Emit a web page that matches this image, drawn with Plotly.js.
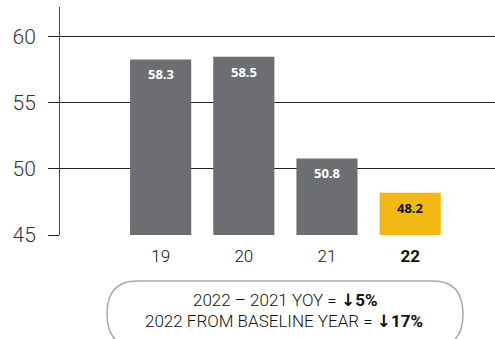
<!DOCTYPE html>
<html><head><meta charset="utf-8">
<script src="https://cdn.plot.ly/plotly-3.0.1.min.js"></script>
<style>html,body{margin:0;padding:0;background:#fff}#chart{width:495px;height:339px}</style>
</head><body><div id="chart"></div>
<script>
const categories = ["19", "20", "21", "22"];
const tickLabels = ["19", "20", "21", "<b>22</b>"];
const values = [58.3, 58.5, 50.8, 48.2];
const barColors = ["#6d6e71", "#6d6e71", "#6d6e71", "#f1b814"];
const labelColors = ["#ffffff", "#ffffff", "#ffffff", "#111111"];
const yTicks = [45, 50, 55, 60];
const ARW = "<span style='font-family:DejaVu Sans'>↓</span>";
const noteLines = ["2022 – 2021 YOY = <b>" + ARW + "5%</b>", "2022 FROM BASELINE YEAR = <b>" + ARW + "17%</b>"];

const xIdx = categories.map((c, i) => i);
const trace = {
  type: "bar",
  x: xIdx,
  y: values.map(v => v - 45),
  base: 45,
  width: 0.735,
  marker: {color: barColors, line: {width: 0}},
  hoverinfo: "skip"
};

const valueLabels = values.map((v, i) => ({
  xref: "x", yref: "y", x: xIdx[i], y: v, yanchor: "middle", yshift: -15,
  showarrow: false, text: "<b>" + v.toFixed(1) + "</b>",
  font: {family: "Open Sans, sans-serif", size: 13, color: labelColors[i]}
}));

const rx = 30/435, ry = 33/228;
const x0 = (107-60)/435, x1 = (463-60)/435, y0 = (235-281)/228, y1 = (235-347)/228;
const path = `M ${x0+rx} ${y0} L ${x1-rx} ${y0} Q ${x1} ${y0} ${x1} ${y0-ry} L ${x1} ${y1+ry} Q ${x1} ${y1} ${x1-rx} ${y1} L ${x0+rx} ${y1} Q ${x0} ${y1} ${x0} ${y1+ry} L ${x0} ${y0-ry} Q ${x0} ${y0} ${x0+rx} ${y0} Z`;

const layout = {
  width: 495, height: 339,
  margin: {l: 60, r: 0, t: 7, b: 104},
  paper_bgcolor: "#fff", plot_bgcolor: "#fff",
  showlegend: false,
  font: {family: "Roboto, sans-serif", color: "#222"},
  xaxis: {
    range: [-1.21, 4.02],
    tickmode: "array", tickvals: xIdx, ticktext: tickLabels,
    showgrid: false, zeroline: false, showline: false,
    ticks: "", tickfont: {size: 17, color: "#111", weight: 300},
    ticklabelstandoff: 9,
    fixedrange: true
  },
  yaxis: {
    range: [45, 62.27],
    tickmode: "array", tickvals: yTicks,
    showgrid: true, gridcolor: "#222", gridwidth: 1,
    zeroline: false,
    showline: true, linecolor: "#444", linewidth: 1,
    ticks: "outside", ticklen: 11, tickcolor: "#222", tickwidth: 1,
    tickfont: {size: 21, color: "#333", weight: 300},
    ticklabelstandoff: 8,
    fixedrange: true
  },
  shapes: [
    {type: "path", xref: "paper", yref: "paper", path: path,
     line: {color: "#aaaaaa", width: 1.5}, fillcolor: "rgba(0,0,0,0)", layer: "above"}
  ],
  annotations: valueLabels.concat([
    {xref: "paper", yref: "paper", x: (285-60)/435, y: (235-299.5)/228, yanchor: "middle", showarrow: false,
     text: noteLines[0], font: {size: 17, color: "#111", weight: 300}},
    {xref: "paper", yref: "paper", x: (284-60)/435, y: (235-320.5)/228, yanchor: "middle", showarrow: false,
     text: noteLines[1], font: {size: 17, color: "#111", weight: 300}}
  ])
};
Plotly.newPlot("chart", [trace], layout, {displayModeBar: false, staticPlot: true});
</script></body></html>
